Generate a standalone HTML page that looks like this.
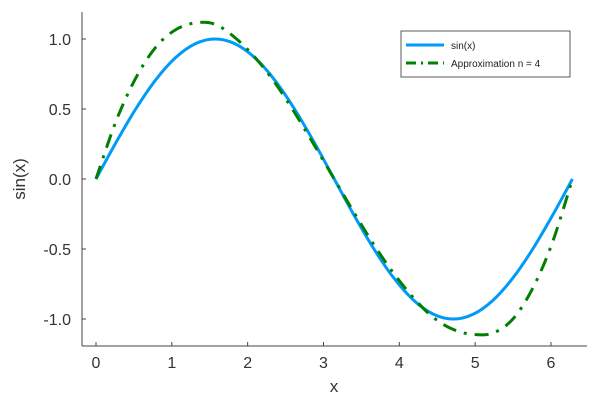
<!DOCTYPE html>
<html><head><meta charset="utf-8"><style>
body{margin:0;background:#fff}
svg{display:block;font-family:"Liberation Sans","DejaVu Sans",sans-serif}
</style></head><body>
<svg id="chart" width="600" height="400" xmlns="http://www.w3.org/2000/svg">
<rect width="600" height="400" fill="#fff"/>
<g id="axes"></g>
<g id="series"></g>
<g>
<rect x="401" y="31" width="169" height="46" fill="#fff" stroke="#333" stroke-width="0.8"/>
<line x1="406" y1="45" x2="444" y2="45" stroke="#009af9" stroke-width="3"/>
<text x="451" y="49" font-size="10" fill="#222">sin(x)</text>
<line x1="406" y1="63" x2="444" y2="63" stroke="#008000" stroke-width="3" stroke-dasharray="10,5,2,5"/>
<text x="451" y="67" font-size="10" fill="#222">Approximation n = 4</text>
</g>
<text x="334" y="392" font-size="17" fill="#333" text-anchor="middle">x</text>
<text x="0" y="0" font-size="17" fill="#333" text-anchor="middle" transform="translate(25,179) rotate(-90)">sin(x)</text>
</svg>
<script>
const xs = [0,0.2618,0.5236,0.7854,1.0472,1.309,1.5708,1.8326,2.0944,2.3562,2.618,2.8798,3.1416,3.4034,3.6652,3.927,4.1888,4.4506,4.7124,4.9742,5.236,5.4978,5.7596,6.0214,6.2832];
const sinVals = [0,0.259,0.5,0.707,0.866,0.966,1,0.966,0.866,0.707,0.5,0.259,0,-0.259,-0.5,-0.707,-0.866,-0.966,-1,-0.966,-0.866,-0.707,-0.5,-0.259,0];
const approxVals = [0,0.41,0.72,0.94,1.065,1.115,1.105,1.01,0.87,0.69,0.475,0.24,0,-0.24,-0.47,-0.675,-0.85,-0.99,-1.075,-1.11,-1.1,-1.0,-0.78,-0.45,0];
const xTicks = [0,1,2,3,4,5,6];
const yTicks = [-1.0,-0.5,0.0,0.5,1.0];
const yTickLabels = ["-1.0","-0.5","0.0","0.5","1.0"];

const NS="http://www.w3.org/2000/svg";
const X=v=>96+v*75.83, Y=v=>179-v*140;
const L=82,B=346,T=12,R=587;
const axes=document.getElementById('axes'), series=document.getElementById('series');
function mk(tag,at,parent){const e=document.createElementNS(NS,tag);for(const k in at)e.setAttribute(k,at[k]);parent.appendChild(e);return e;}
let e=mk('line',{x1:L,y1:T,x2:L,y2:B,stroke:'#444','stroke-width':1},axes);


e=mk('line',{x1:L,y1:B,x2:R,y2:B,stroke:'#444','stroke-width':1},axes);


xTicks.forEach(t=>{
  let l=mk('line',{x1:X(t),y1:B,x2:X(t),y2:B-4,stroke:'#444'},axes);
  
  
  let tx=mk('text',{x:X(t),y:B+22,'font-size':16,fill:'#333','text-anchor':'middle'},axes);
  tx.textContent=String(t);
  
  
});
yTicks.forEach((t,i)=>{
  let l=mk('line',{x1:L,y1:Y(t),x2:L+4,y2:Y(t),stroke:'#444'},axes);
  
  
  let tx=mk('text',{x:71,y:Y(t)+6,'font-size':16,fill:'#333','text-anchor':'end'},axes);
  tx.textContent=yTickLabels[i];
  
  
});
function smooth(vals){
  const p=xs.map((x,i)=>[X(x),Y(vals[i])]);
  let d='M'+p[0][0]+','+p[0][1];
  for(let i=0;i<p.length-1;i++){
    const p0=p[i-1]||p[i],p1=p[i],p2=p[i+1],p3=p[i+2]||p2;
    const c1=[p1[0]+(p2[0]-p0[0])/6,p1[1]+(p2[1]-p0[1])/6];
    const c2=[p2[0]-(p3[0]-p1[0])/6,p2[1]-(p3[1]-p1[1])/6];
    d+=` C${c1[0]},${c1[1]} ${c2[0]},${c2[1]} ${p2[0]},${p2[1]}`;
  }
  return d;
}
let s=mk('path',{d:smooth(sinVals),fill:'none',stroke:'#009af9','stroke-width':3},series);


let a=mk('path',{d:smooth(approxVals),fill:'none',stroke:'#008000','stroke-width':3,'stroke-dasharray':'14,8,3,8'},series);


</script>
</body></html>
